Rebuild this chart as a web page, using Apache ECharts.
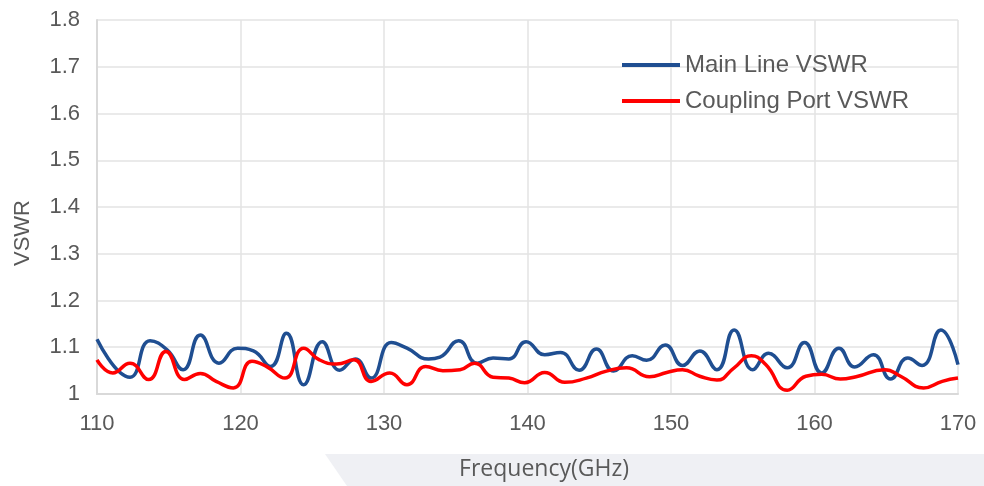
<!DOCTYPE html>
<html><head><meta charset="utf-8">
<script src="https://cdn.jsdelivr.net/npm/echarts@6/dist/echarts.min.js"></script>
<style>html,body{margin:0;padding:0;background:#fff}#c{width:984px;height:486px}</style>
</head><body><div id="c"></div>
<script>
var seriesNames = ['Main Line VSWR', 'Coupling Port VSWR'];
var xTicks = [110, 120, 130, 140, 150, 160, 170];
var mainFreq = [110, 112.3, 113.7, 114.9, 116.0, 117.2, 118.5, 119.8, 120.9, 122.1, 123.2, 124.4, 125.7, 126.9, 128.0, 129.1, 130.5, 131.6, 133.1, 133.9, 135.2, 136.5, 137.6, 138.7, 139.9, 141.2, 142.3, 143.6, 144.8, 146.0, 147.3, 148.3, 149.6, 150.8, 152.0, 153.2, 154.4, 155.7, 156.8, 158.1, 159.3, 160.5, 161.7, 162.8, 164.1, 165.3, 166.5, 167.5, 168.8, 170];
var mainVal = [1.117, 1.036, 1.114, 1.094, 1.052, 1.126, 1.066, 1.098, 1.092, 1.059, 1.13, 1.02, 1.112, 1.051, 1.075, 1.034, 1.11, 1.098, 1.075, 1.079, 1.114, 1.066, 1.077, 1.075, 1.112, 1.084, 1.089, 1.051, 1.096, 1.049, 1.082, 1.072, 1.105, 1.061, 1.092, 1.052, 1.137, 1.052, 1.087, 1.056, 1.11, 1.045, 1.098, 1.058, 1.084, 1.032, 1.077, 1.061, 1.137, 1.063];
var coupFreq = [110, 111.1, 112.3, 113.6, 114.8, 116.1, 117.2, 118.3, 119.5, 120.8, 121.8, 123.1, 124.4, 125.5, 126.7, 127.9, 129.1, 130.4, 131.6, 132.9, 134.1, 135.3, 136.3, 137.6, 138.7, 139.8, 141.2, 142.6, 144.1, 145.5, 146.9, 148.5, 149.7, 150.8, 152.0, 153.2, 154.4, 155.6, 156.6, 158.1, 159.4, 160.5, 161.8, 162.9, 164.9, 166.0, 167.6, 168.9, 170];
var coupVal = [1.073, 1.045, 1.066, 1.031, 1.091, 1.031, 1.044, 1.027, 1.013, 1.07, 1.059, 1.034, 1.098, 1.073, 1.064, 1.073, 1.027, 1.045, 1.02, 1.059, 1.05, 1.052, 1.066, 1.036, 1.034, 1.024, 1.046, 1.025, 1.034, 1.049, 1.056, 1.037, 1.046, 1.052, 1.038, 1.030, 1.056, 1.082, 1.063, 1.008, 1.038, 1.042, 1.032, 1.037, 1.052, 1.038, 1.013, 1.027, 1.034];

function pairs(xs, ys){ return xs.map(function(x,i){ return [x, ys[i]]; }); }

var chart = echarts.init(document.getElementById('c'));
var txt = '#595959';
chart.setOption({
  animation: false,
  backgroundColor: '#fff',
  graphic: [{
    type: 'polygon', z: -10, silent: true,
    shape: { points: [[325, 454], [984, 454], [984, 486], [347, 486]] },
    style: { fill: '#eff0f4' }
  }],
  grid: { left: 97, right: 26, top: 20, bottom: 87, containLabel: false },
  legend: {
    orient: 'vertical', left: 622, top: 53, padding: 0,
    itemWidth: 58, itemHeight: 4, itemGap: 12, icon: 'rect',
    textStyle: { fontFamily: 'Liberation Sans, Arial', fontSize: 24, color: txt },
    data: seriesNames
  },
  xAxis: {
    type: 'value', min: xTicks[0], max: xTicks[xTicks.length - 1], interval: 10,
    name: 'Frequency(GHz)', nameLocation: 'middle', nameGap: 64,
    nameTextStyle: { fontFamily: 'Open Sans', fontSize: 23, color: txt, padding: [0, 0, 0, 33] },
    axisLine: { show: true, lineStyle: { color: '#d9d9d9', width: 2 } },
    axisTick: { show: false },
    axisLabel: { fontFamily: 'Liberation Sans, Arial', fontSize: 22, color: txt, margin: 19 },
    splitLine: { show: true, lineStyle: { color: '#e3e3e3', width: 1.5 } }
  },
  yAxis: {
    type: 'value', min: 1, max: 1.8, interval: 0.1,
    name: 'VSWR', nameLocation: 'middle', nameGap: 63, nameRotate: 90,
    nameTextStyle: { fontFamily: 'Liberation Sans, Arial', fontSize: 22, color: txt, padding: [0, 52, 0, 0] },
    axisLine: { show: true, lineStyle: { color: '#d9d9d9', width: 2 } },
    axisTick: { show: false },
    axisLabel: { fontFamily: 'Liberation Sans, Arial', fontSize: 22, color: txt, margin: 17,
      formatter: function(v){ return String(Math.round(v * 10) / 10); } },
    splitLine: { show: true, lineStyle: { color: '#e3e3e3', width: 1.5 } }
  },
  series: [
    { name: seriesNames[0], type: 'line', smooth: 0.5, showSymbol: false,
      data: pairs(mainFreq, mainVal), color: '#1f4e91',
      lineStyle: { width: 3.5, color: '#1f4e91' }, z: 3 },
    { name: seriesNames[1], type: 'line', smooth: 0.5, showSymbol: false,
      data: pairs(coupFreq, coupVal), color: '#ff0000',
      lineStyle: { width: 3.5, color: '#ff0000' }, z: 4 }
  ]
});
</script>
</body></html>
